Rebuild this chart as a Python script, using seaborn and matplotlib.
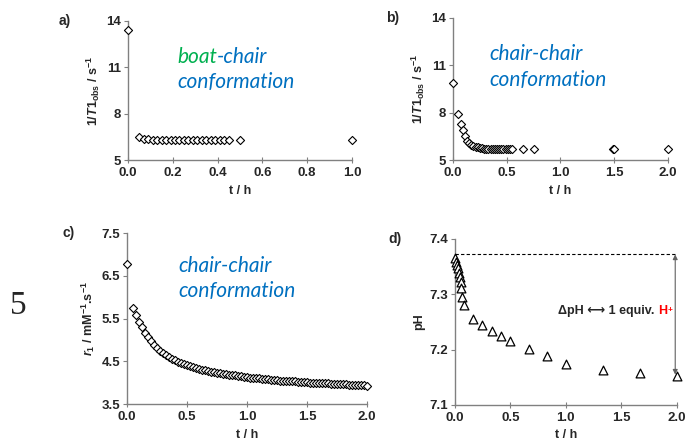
import numpy as np
import pandas as pd
import matplotlib
matplotlib.use("Agg")
import matplotlib.pyplot as plt
import seaborn as sns

sns.set_style("ticks")
plt.rcParams['font.family'] = ['Liberation Sans', 'DejaVu Sans']
plt.rcParams['mathtext.fontset'] = 'custom'
plt.rcParams['mathtext.rm'] = 'Liberation Sans:bold'
plt.rcParams['mathtext.bf'] = 'Liberation Sans:bold'
plt.rcParams['mathtext.it'] = 'Liberation Sans:italic:bold'

# (a) boat-chair, 1/T1obs vs time
t_a = [0.0, 0.05, 0.07, 0.09, 0.11, 0.13, 0.15, 0.17, 0.19, 0.21, 0.23, 0.25,
       0.27, 0.29, 0.31, 0.33, 0.35, 0.37, 0.39, 0.41, 0.43, 0.45, 0.5, 1.0]
r_a = [13.4, 6.49, 6.38, 6.34, 6.32, 6.30, 6.29, 6.28, 6.28, 6.28, 6.28, 6.28,
       6.28, 6.28, 6.28, 6.28, 6.28, 6.28, 6.28, 6.28, 6.28, 6.28, 6.27, 6.27]

# (b) chair-chair, 1/T1obs vs time
t_b = [0.0, 0.05, 0.07, 0.09, 0.11, 0.13, 0.15, 0.17, 0.19, 0.21, 0.23, 0.25,
       0.27, 0.29, 0.31, 0.33, 0.35, 0.37, 0.39, 0.41, 0.43, 0.45, 0.47, 0.49,
       0.51, 0.53, 0.55, 0.65, 0.75, 1.49, 1.5, 2.0]
r_b = [9.87, 7.94, 7.28, 6.90, 6.53, 6.23, 6.08, 5.97, 5.90, 5.84, 5.80, 5.76,
       5.74, 5.72, 5.71, 5.70, 5.69, 5.68, 5.68, 5.67, 5.67, 5.67, 5.67, 5.67,
       5.67, 5.67, 5.67, 5.67, 5.67, 5.67, 5.67, 5.67]

# (c) chair-chair, relaxivity r1 vs time
t_c = [0.0, 0.05, 0.075, 0.1, 0.125, 0.15, 0.175, 0.2, 0.225, 0.25, 0.275, 0.3,
       0.325, 0.35, 0.375, 0.4, 0.425, 0.45, 0.475, 0.5, 0.525, 0.55, 0.575, 0.6,
       0.625, 0.65, 0.675, 0.7, 0.725, 0.75, 0.775, 0.8, 0.825, 0.85, 0.875, 0.9,
       0.925, 0.95, 0.975, 1.0, 1.025, 1.05, 1.075, 1.1, 1.125, 1.15, 1.175, 1.2,
       1.225, 1.25, 1.275, 1.3, 1.325, 1.35, 1.375, 1.4, 1.425, 1.45, 1.475, 1.5,
       1.525, 1.55, 1.575, 1.6, 1.625, 1.65, 1.675, 1.7, 1.725, 1.75, 1.775, 1.8,
       1.825, 1.85, 1.875, 1.9, 1.925, 1.95, 1.975, 2.0]
r_c = [6.77, 5.75, 5.58, 5.43, 5.29, 5.17, 5.06, 4.97, 4.89, 4.82, 4.75, 4.69,
       4.64, 4.60, 4.56, 4.52, 4.49, 4.46, 4.43, 4.41, 4.38, 4.36, 4.34, 4.32,
       4.30, 4.29, 4.27, 4.26, 4.24, 4.23, 4.22, 4.21, 4.20, 4.19, 4.18, 4.17,
       4.16, 4.15, 4.14, 4.13, 4.12, 4.11, 4.11, 4.10, 4.09, 4.08, 4.08, 4.07,
       4.06, 4.06, 4.05, 4.05, 4.04, 4.04, 4.03, 4.03, 4.02, 4.02, 4.01, 4.01,
       4.00, 4.00, 3.99, 3.99, 3.99, 3.98, 3.98, 3.97, 3.97, 3.97, 3.96, 3.96,
       3.96, 3.95, 3.95, 3.95, 3.94, 3.94, 3.94, 3.93]

# (d) pH vs time
t_d = [0.0, 0.01, 0.02, 0.03, 0.042, 0.05, 0.055, 0.058, 0.066, 0.083, 0.167,
       0.25, 0.333, 0.417, 0.5, 0.667, 0.833, 1.0, 1.333, 1.667, 2.0]
ph_d = [7.365, 7.359, 7.353, 7.347, 7.338, 7.332, 7.323, 7.311, 7.295, 7.280, 7.256,
        7.245, 7.234, 7.224, 7.216, 7.201, 7.188, 7.174, 7.164, 7.157, 7.152]
ph_start = 7.372
ph_end = 7.155

blue = '#0070C0'
green = '#00B050'
spine_col = '#808080'

fig = plt.figure(figsize=(6.9, 4.43), dpi=100)
ax_a = fig.add_axes([0.1855, 0.6388, 0.3245, 0.3138])
ax_b = fig.add_axes([0.6565, 0.6388, 0.3115, 0.3206])
ax_c = fig.add_axes([0.184, 0.088, 0.348, 0.386])
ax_d = fig.add_axes([0.659, 0.0858, 0.322, 0.3747])

dia = dict(marker='D', s=17, facecolor='white', edgecolor='black', linewidth=0.8, legend=False)
sns.scatterplot(x=t_a, y=r_a, ax=ax_a, **dia)
sns.scatterplot(x=t_b, y=r_b, ax=ax_b, **dia)
sns.scatterplot(x=t_c, y=r_c, ax=ax_c, **dia)
sns.scatterplot(x=t_d, y=ph_d, ax=ax_d, marker='^', s=40, facecolor='white',
                edgecolor='black', linewidth=0.9, legend=False)

ylab_t1 = r'$\mathrm{1/}\mathit{T}\mathrm{1}_{\mathrm{obs}}$ / s$^{\mathrm{-1}}$'
setup = [
    (ax_a, (0, 1.0), np.arange(0, 1.01, 0.2), (5, 14), [5, 8, 11, 14], '{:.1f}', '{:.0f}', ylab_t1, 'a)', -0.31),
    (ax_b, (0, 2.0), np.arange(0, 2.01, 0.5), (5, 14), [5, 8, 11, 14], '{:.1f}', '{:.0f}', ylab_t1, 'b)', -0.31),
    (ax_c, (0, 2.0), np.arange(0, 2.01, 0.5), (3.5, 7.5), [3.5, 4.5, 5.5, 6.5, 7.5], '{:.1f}', '{:.1f}',
     r'$\mathit{r}_{\mathit{1}}$ / mM$^{\mathrm{-1}}$.s$^{\mathrm{-1}}$', 'c)', -0.27),
    (ax_d, (0, 2.0), np.arange(0, 2.01, 0.5), (7.1, 7.4), [7.1, 7.2, 7.3, 7.4], '{:.1f}', '{:.1f}', 'pH', 'd)', -0.30),
]
for ax, xl, xt, yl, yt, xf, yf, ylab, tag, tagx in setup:
    ax.set_xlim(*xl)
    ax.set_ylim(*yl)
    ax.set_xticks(xt)
    ax.set_xticklabels([xf.format(v) for v in xt], fontsize=9.5, fontweight='bold')
    ax.set_yticks(yt)
    ax.set_yticklabels([yf.format(v) for v in yt], fontsize=9.5, fontweight='bold')
    ax.set_xlabel('t / h', fontsize=9, fontweight='bold', labelpad=4)
    ax.set_ylabel(ylab, fontsize=9, fontweight='bold', labelpad=3)
    sns.despine(ax=ax)
    for s in ['left', 'bottom']:
        ax.spines[s].set_color(spine_col)
        ax.spines[s].set_linewidth(1.0)
    ax.tick_params(axis='y', direction='out', length=3, color=spine_col, pad=2)
    ax.tick_params(axis='x', direction='inout', length=4, color=spine_col, pad=3)
    for sp in ax.spines.values():
        sp.set_zorder(0)
    for coll in ax.collections:
        coll.set_clip_on(False)
        coll.set_zorder(3)
    ax.text(tagx, 1.0, tag, transform=ax.transAxes, fontsize=10, fontweight='bold',
            ha='left', va='center')

conf_font = dict(family=['Lato', 'DejaVu Sans'], style='italic', fontsize=15)
ax_a.text(0.22, 11.67, 'boat', color=green, ha='left', va='center', **conf_font)
ax_a.annotate('-chair', xy=(1, 0), xycoords=ax_a.texts[-1], ha='left', va='bottom',
              color=blue, **conf_font)
ax_a.text(0.22, 10.05, 'conformation', color=blue, ha='left', va='center', **conf_font)
ax_b.text(0.335, 11.7, 'chair-chair', color=blue, ha='left', va='center', **conf_font)
ax_b.text(0.335, 10.05, 'conformation', color=blue, ha='left', va='center', **conf_font)
ax_c.text(0.425, 6.72, 'chair-chair', color=blue, ha='left', va='center', **conf_font)
ax_c.text(0.425, 6.14, 'conformation', color=blue, ha='left', va='center', **conf_font)

# pH annotation
ax_d.plot([0, 2.0], [ph_start, ph_start], ls=(0, (3, 2)), color='black', lw=0.8, zorder=1)
ax_d.annotate('', xy=(1.985, ph_end), xytext=(1.985, ph_start),
              arrowprops=dict(arrowstyle='<|-|>', color='#606060', lw=0.8,
                              mutation_scale=7, shrinkA=0, shrinkB=0))
t1 = ax_d.text(0.93, 7.265, '\u0394pH \u27f7 1 equiv. ', fontsize=9, fontweight='bold',
               ha='left', va='baseline', family=['Liberation Sans', 'DejaVu Sans'])
ax_d.annotate('H', xy=(1, 0), xycoords=t1, xytext=(0, 1.9), textcoords='offset points',
              ha='left', va='baseline', fontsize=9, fontweight='bold', color='red')
ax_d.annotate('+', xy=(1, 0), xycoords=ax_d.texts[-1], xytext=(0.3, 3.8),
              textcoords='offset points', ha='left', va='baseline',
              fontsize=6, fontweight='bold', color='red')

fig.text(0.026, 0.31, '5', family=['Liberation Serif', 'DejaVu Serif'], fontsize=24,
         ha='center', va='center')

fig.savefig('out.png', dpi=100)
